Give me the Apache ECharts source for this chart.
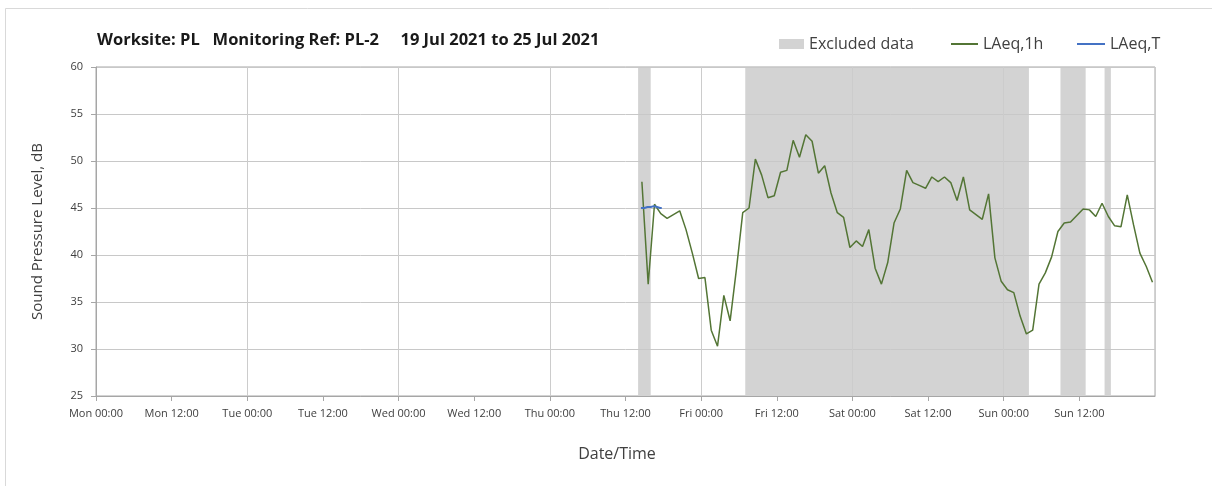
<!DOCTYPE html>
<html>
<head>
<meta charset="utf-8">
<script src="https://cdn.jsdelivr.net/npm/echarts@6/dist/echarts.min.js"></script>
<style>
  html, body { margin: 0; padding: 0; background: #ffffff; }
  #chart { width: 1212px; height: 486px; }
</style>
</head>
<body>
<div id="chart"></div>
<script>
// ---- data ----
const dayNames = ['Mon', 'Tue', 'Wed', 'Thu', 'Fri', 'Sat', 'Sun'];
const halfDayLabels = ['00:00', '12:00'];
// hours since Mon 00:00
const laeq1hStartHour = 86.6;   // first hourly value (Thu ~14:35)
const laeq1hValues = [
  47.8, 36.9, 45.4, 44.4, 43.9, 44.3, 44.7, 42.7, 40.2, 37.5,
  37.6, 32.0, 30.3, 35.7, 33.0, 38.5, 44.5, 45.0, 50.2, 48.5,
  46.1, 46.3, 48.8, 49.0, 52.2, 50.4, 52.8, 52.1, 48.7, 49.5,
  46.6, 44.5, 44.0, 40.8, 41.5, 40.9, 42.7, 38.6, 36.9, 39.2,
  43.4, 44.9, 49.0, 47.7, 47.4, 47.1, 48.3, 47.8, 48.3, 47.7,
  45.8, 48.3, 44.8, 44.3, 43.8, 46.5, 39.7, 37.2, 36.3, 36.0,
  33.5, 31.6, 32.0, 36.9, 38.1, 39.8, 42.5, 43.4, 43.5, 44.2,
  44.9, 44.8, 44.1, 45.5, 44.1, 43.1, 43.0, 46.4, 43.2, 40.2,
  38.8, 37.1
];
const laeqTHours  = [86.45, 87.0, 87.5, 88.0, 88.5, 89.0, 89.5, 89.75];
const laeqTValues = [45.0, 45.0, 45.1, 45.1, 45.2, 45.1, 45.0, 45.0];
// excluded periods [start hour, end hour] since Mon 00:00
const excludedPeriods = [[86, 88], [103, 148], [153, 157], [160, 161]];

const yMin = 25, yMax = 60, yStep = 5;
const xMin = 0, xMax = 168;

// ---- build ----
const laeq1hData = laeq1hValues.map((v, i) => [laeq1hStartHour + i, v]);
const laeqTData = laeqTHours.map((h, i) => [h, laeqTValues[i]]);
const excludedAreas = excludedPeriods.map(p => [{ xAxis: p[0] }, { xAxis: p[1] }]);

const FONT = 'Open Sans';
const chart = echarts.init(document.getElementById('chart'), null, { renderer: 'canvas' });

const legendBase = {
  orient: 'horizontal',
  top: 36,
  padding: 0,
  textStyle: { fontFamily: FONT, fontSize: 16, color: '#404040' },
  selectedMode: false
};

chart.setOption({
  backgroundColor: '#ffffff',
  animation: false,
  title: {
    text: 'Worksite: PL   Monitoring Ref: PL-2     19 Jul 2021 to 25 Jul 2021',
    left: 97,
    top: 32,
    padding: 0,
    textStyle: { fontFamily: FONT, fontSize: 16.5, fontWeight: 'bold', color: '#1a1a1a' }
  },
  legend: [
    Object.assign({}, legendBase, {
      left: 779, data: [{ name: 'Excluded data', icon: 'rect' }],
      itemWidth: 25, itemHeight: 10
    }),
    Object.assign({}, legendBase, {
      left: 951, data: [{ name: 'LAeq,1h', icon: 'rect' }],
      itemWidth: 27, itemHeight: 2
    }),
    Object.assign({}, legendBase, {
      left: 1077, data: [{ name: 'LAeq,T', icon: 'rect' }],
      itemWidth: 28, itemHeight: 2
    })
  ],
  graphic: [{
    type: 'rect',
    shape: { x: 5.5, y: 8.5, width: 1212, height: 500 },
    style: { fill: 'none', stroke: '#d9d9d9', lineWidth: 1 },
    silent: true, z: -10
  }],
  grid: {
    left: 96, right: 57, top: 67, bottom: 90,
    show: true, borderColor: '#a6a6a6', borderWidth: 1, backgroundColor: 'transparent'
  },
  xAxis: [{
    type: 'value', min: xMin, max: xMax, interval: 12, z: 3,
    name: 'Date/Time', nameLocation: 'middle', nameGap: 50,
    nameTextStyle: { fontFamily: FONT, fontSize: 16, color: '#404040', padding: [0, 17, 0, 0] },
    axisLine: { show: true, lineStyle: { color: '#a6a6a6', width: 1 } },
    axisTick: { show: true, length: 5, lineStyle: { color: '#a6a6a6' } },
    axisLabel: {
      fontFamily: FONT, fontSize: 11, color: '#404040', margin: 12,
      showMaxLabel: false,
      formatter: v => v >= xMax ? '' : dayNames[Math.floor(v / 24)] + ' ' + halfDayLabels[(v % 24) / 12]
    },
    splitLine: { show: false }
  }, {
    type: 'value', min: xMin, max: xMax, interval: 24, z: 3, position: 'bottom',
    axisLine: { show: false }, axisTick: { show: false }, axisLabel: { show: false },
    splitLine: { show: true, lineStyle: { color: '#cccccc', width: 1 } }
  }],
  yAxis: {
    type: 'value', min: yMin, max: yMax, interval: yStep, z: 3,
    name: 'Sound Pressure Level, dB', nameLocation: 'middle', nameGap: 51,
    nameTextStyle: { fontFamily: FONT, fontSize: 15, color: '#404040' },
    axisLine: { show: true, lineStyle: { color: '#a6a6a6', width: 1 } },
    axisTick: { show: true, length: 5, lineStyle: { color: '#a6a6a6' } },
    axisLabel: { fontFamily: FONT, fontSize: 11, color: '#404040', margin: 13 },
    splitLine: { show: true, lineStyle: { color: '#c8c8c8', width: 1 } }
  },
  series: [{
    name: 'Excluded data', type: 'line', data: [], z: 1,
    itemStyle: { color: '#d3d3d3' },
    lineStyle: { color: '#d3d3d3' },
    markArea: {
      silent: true, z: 1,
      itemStyle: { color: '#d3d3d3', opacity: 1 },
      data: excludedAreas
    }
  }, {
    name: 'LAeq,1h', type: 'line', data: laeq1hData, z: 5,
    showSymbol: false, symbol: 'none',
    itemStyle: { color: '#537535' },
    lineStyle: { color: '#537535', width: 1.5 }
  }, {
    name: 'LAeq,T', type: 'line', data: laeqTData, z: 6,
    showSymbol: false, symbol: 'none',
    itemStyle: { color: '#4472c4' },
    lineStyle: { color: '#4472c4', width: 2 }
  }]
});
</script>
</body>
</html>
